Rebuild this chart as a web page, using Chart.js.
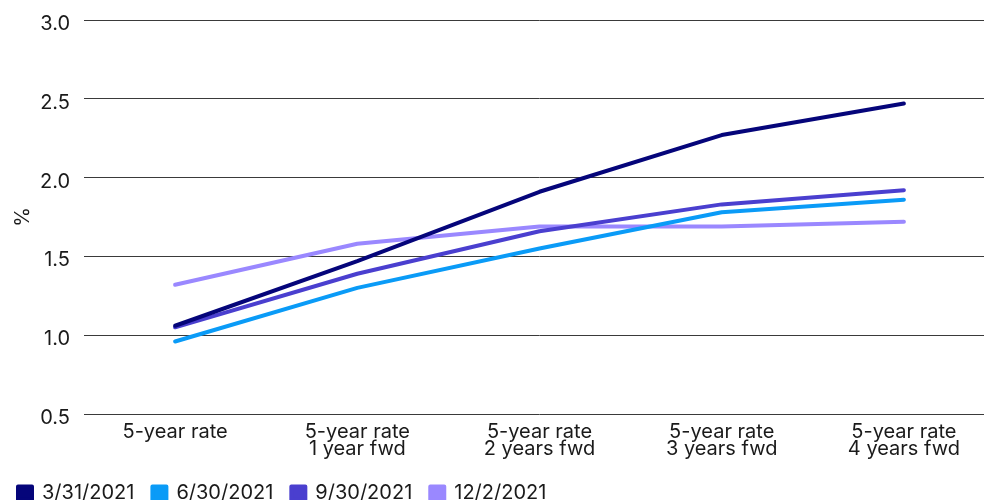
<!DOCTYPE html>
<html>
<head>
<meta charset="utf-8">
<script src="https://cdn.jsdelivr.net/npm/chart.js@4/dist/chart.umd.min.js"></script>
<style>
  html, body { margin: 0; padding: 0; background: #fff; overflow: hidden; }
  #wrap { width: 1000px; height: 500px; }
</style>
</head>
<body>
<div id="wrap"><canvas id="c" width="1000" height="500"></canvas></div>
<script>
// Forward-rate categories (multi-line labels)
const categories = [
  ['5-year rate'],
  ['5-year rate', '1 year fwd'],
  ['5-year rate', '2 years fwd'],
  ['5-year rate', '3 years fwd'],
  ['5-year rate', '4 years fwd']
];

// Curves by observation date, in %
const rates_2021_03_31 = [1.06, 1.47, 1.91, 2.27, 2.47];
const rates_2021_06_30 = [0.96, 1.30, 1.55, 1.78, 1.86];
const rates_2021_09_30 = [1.05, 1.39, 1.66, 1.83, 1.92];
const rates_2021_12_02 = [1.32, 1.58, 1.69, 1.69, 1.72];

const seriesNames = ['3/31/2021', '6/30/2021', '9/30/2021', '12/2/2021'];
const seriesColors = ['#05057a', '#0a9bf7', '#4a3fcf', '#9a88ff'];
const seriesData = [rates_2021_03_31, rates_2021_06_30, rates_2021_09_30, rates_2021_12_02];

const yTicks = [0.5, 1.0, 1.5, 2.0, 2.5, 3.0];

const FONT = 'Inter, "Noto Sans", sans-serif';
const TEXT = '#1a1a1a';

// Keep the legend row compact and sitting near the bottom edge
const legendFit = {
  id: 'legendFit',
  beforeLayout(chart) {
    const lg = chart.legend;
    if (lg && !lg._compact) {
      const fit = lg.fit.bind(lg);
      lg.fit = function () { fit(); this.height = 41; };
      lg._compact = true;
    }
  },
  afterLayout(chart) {
    const lg = chart.legend;
    if (lg) { lg.top += 6; lg.bottom += 6; }
  }
};

new Chart(document.getElementById('c'), {
  type: 'line',
  data: {
    labels: categories,
    datasets: seriesData.map((d, i) => ({
      label: seriesNames[i],
      data: d,
      borderColor: seriesColors[i],
      backgroundColor: seriesColors[i],
      borderWidth: 4,
      borderCapStyle: 'round',
      borderJoinStyle: 'round',
      pointRadius: 0,
      tension: 0,
      fill: false
    }))
  },
  plugins: [legendFit],
  options: {
    responsive: false,
    animation: false,
    layout: { padding: { top: 20, right: 5, left: 0, bottom: 0 } },
    plugins: {
      tooltip: { enabled: false },
      legend: {
        position: 'bottom',
        align: 'start',
        labels: {
          boxWidth: 14,
          boxHeight: 13,
          padding: 18,
          color: TEXT,
          font: { family: FONT, size: 20 }
        }
      }
    },
    scales: {
      x: {
        offset: true,
        afterFit: s => { s.height = 45; },
        grid: { display: false, drawTicks: false },
        border: { display: false },
        ticks: {
          color: TEXT,
          padding: 9,
          maxRotation: 0,
          autoSkip: false,
          font: { family: FONT, size: 20, lineHeight: 0.88 }
        }
      },
      y: {
        min: 0.5,
        max: 3.0,
        afterFit: s => { s.width = 84; s.paddingTop = 0; s.paddingBottom = 0; },
        afterBuildTicks: s => { s.ticks = yTicks.map(v => ({ value: v })); },
        grid: { color: '#3a3a3a', lineWidth: 1, drawTicks: false },
        border: { display: false },
        title: {
          display: true,
          text: '%',
          color: TEXT,
          padding: { top: 11, bottom: 0 },
          font: { family: FONT, size: 20 }
        },
        ticks: {
          color: TEXT,
          padding: 14,
          labelOffset: 4,
          font: { family: FONT, size: 20 },
          callback: v => Number(v).toFixed(1)
        }
      }
    }
  }
});
</script>
</body>
</html>
